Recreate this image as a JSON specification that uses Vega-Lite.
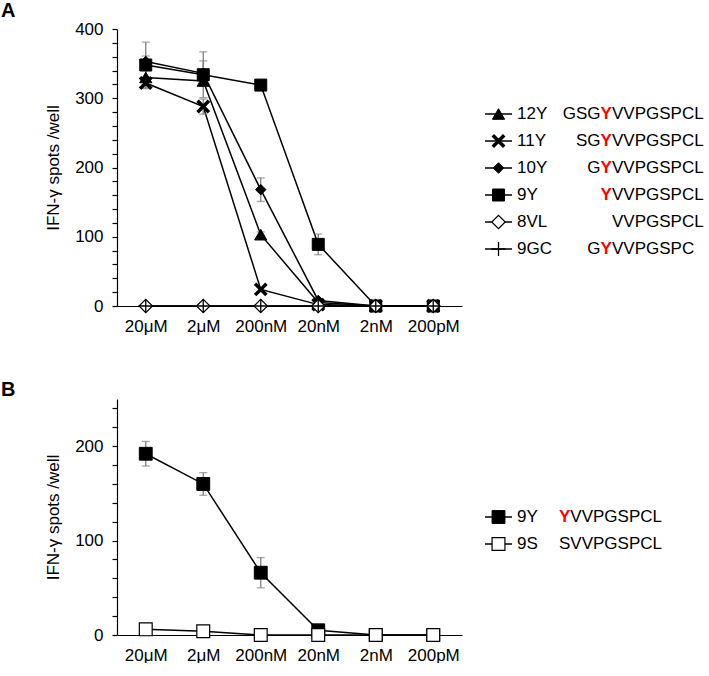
{
  "$schema": "https://vega.github.io/schema/vega-lite/v6.json",
  "padding": {"left": 1, "top": 1, "right": 0, "bottom": 0},
  "background": "white",
  "spacing": 46,
  "resolve": {"scale": {"fill": "independent", "size": "independent", "strokeWidth": "independent", "shape": "independent"}},
  "config": {
    "view": {"stroke": null},
    "font": "Liberation Sans",
    "axis": {"labelFont": "Liberation Sans", "labelFontSize": 17, "labelColor": "black", "titleFont": "Liberation Sans", "titleFontSize": 17, "titleFontWeight": "normal", "titleColor": "black", "domainColor": "black", "domainWidth": 1.2, "tickColor": "black", "tickWidth": 1.2, "grid": false},
    "title": {"font": "Liberation Sans", "color": "black"}
  },
  "datasets": {
    "pts": [
      {"panel": "A", "series": "12Y", "conc": "20μM", "value": 330, "err": 10},
      {"panel": "A", "series": "12Y", "conc": "2μM", "value": 325, "err": 8},
      {"panel": "A", "series": "12Y", "conc": "200nM", "value": 103, "err": 4},
      {"panel": "A", "series": "12Y", "conc": "20nM", "value": 5, "err": 0},
      {"panel": "A", "series": "12Y", "conc": "2nM", "value": 0, "err": 0},
      {"panel": "A", "series": "12Y", "conc": "200pM", "value": 0, "err": 0},
      {"panel": "A", "series": "11Y", "conc": "20μM", "value": 322, "err": 8},
      {"panel": "A", "series": "11Y", "conc": "2μM", "value": 288, "err": 11},
      {"panel": "A", "series": "11Y", "conc": "200nM", "value": 24, "err": 3},
      {"panel": "A", "series": "11Y", "conc": "20nM", "value": 2, "err": 0},
      {"panel": "A", "series": "11Y", "conc": "2nM", "value": 0, "err": 0},
      {"panel": "A", "series": "11Y", "conc": "200pM", "value": 0, "err": 0},
      {"panel": "A", "series": "10Y", "conc": "20μM", "value": 353, "err": 8},
      {"panel": "A", "series": "10Y", "conc": "2μM", "value": 336, "err": 18},
      {"panel": "A", "series": "10Y", "conc": "200nM", "value": 168, "err": 17},
      {"panel": "A", "series": "10Y", "conc": "20nM", "value": 8, "err": 0},
      {"panel": "A", "series": "10Y", "conc": "2nM", "value": 0, "err": 0},
      {"panel": "A", "series": "10Y", "conc": "200pM", "value": 0, "err": 0},
      {"panel": "A", "series": "9Y", "conc": "20μM", "value": 348, "err": 33},
      {"panel": "A", "series": "9Y", "conc": "2μM", "value": 334, "err": 33},
      {"panel": "A", "series": "9Y", "conc": "200nM", "value": 319, "err": 0},
      {"panel": "A", "series": "9Y", "conc": "20nM", "value": 89, "err": 15},
      {"panel": "A", "series": "9Y", "conc": "2nM", "value": 0, "err": 0},
      {"panel": "A", "series": "9Y", "conc": "200pM", "value": 0, "err": 0},
      {"panel": "A", "series": "8VL", "conc": "20μM", "value": 0, "err": 0},
      {"panel": "A", "series": "8VL", "conc": "2μM", "value": 0, "err": 0},
      {"panel": "A", "series": "8VL", "conc": "200nM", "value": 0, "err": 0},
      {"panel": "A", "series": "8VL", "conc": "20nM", "value": 0, "err": 0},
      {"panel": "A", "series": "8VL", "conc": "2nM", "value": 0, "err": 0},
      {"panel": "A", "series": "8VL", "conc": "200pM", "value": 0, "err": 0},
      {"panel": "A", "series": "9GC", "conc": "20μM", "value": 0, "err": 0},
      {"panel": "A", "series": "9GC", "conc": "2μM", "value": 0, "err": 0},
      {"panel": "A", "series": "9GC", "conc": "200nM", "value": 0, "err": 0},
      {"panel": "A", "series": "9GC", "conc": "20nM", "value": 0, "err": 0},
      {"panel": "A", "series": "9GC", "conc": "2nM", "value": 0, "err": 0},
      {"panel": "A", "series": "9GC", "conc": "200pM", "value": 0, "err": 0},
      {"panel": "B", "series": "9Y", "conc": "20μM", "value": 192, "err": 13},
      {"panel": "B", "series": "9Y", "conc": "2μM", "value": 160, "err": 12},
      {"panel": "B", "series": "9Y", "conc": "200nM", "value": 66, "err": 16},
      {"panel": "B", "series": "9Y", "conc": "20nM", "value": 5, "err": 0},
      {"panel": "B", "series": "9Y", "conc": "2nM", "value": 0, "err": 0},
      {"panel": "B", "series": "9Y", "conc": "200pM", "value": 0, "err": 0},
      {"panel": "B", "series": "9S", "conc": "20μM", "value": 6, "err": 4},
      {"panel": "B", "series": "9S", "conc": "2μM", "value": 4, "err": 4},
      {"panel": "B", "series": "9S", "conc": "200nM", "value": 0, "err": 0},
      {"panel": "B", "series": "9S", "conc": "20nM", "value": 0, "err": 0},
      {"panel": "B", "series": "9S", "conc": "2nM", "value": 0, "err": 0},
      {"panel": "B", "series": "9S", "conc": "200pM", "value": 0, "err": 0}
    ],
    "leg": [
      {"panel": "A", "series": "12Y", "pre": "GSG", "mid": "Y", "suf": "VVPGSPCL"},
      {"panel": "A", "series": "11Y", "pre": "SG", "mid": "Y", "suf": "VVPGSPCL"},
      {"panel": "A", "series": "10Y", "pre": "G", "mid": "Y", "suf": "VVPGSPCL"},
      {"panel": "A", "series": "9Y", "pre": "", "mid": "Y", "suf": "VVPGSPCL"},
      {"panel": "A", "series": "8VL", "pre": "", "mid": "", "suf": "VVPGSPCL"},
      {"panel": "A", "series": "9GC", "pre": "G", "mid": "Y", "suf": "VVPGSPC"},
      {"panel": "B", "series": "9Y", "pre": "", "mid": "Y", "suf": "VVPGSPCL"},
      {"panel": "B", "series": "9S", "pre": "", "mid": "S", "suf": "VVPGSPCL"}
    ]
  },
  "vconcat": [
    {
      "title": {"text": "A", "anchor": "start", "frame": "group", "dx": -116, "fontSize": 20, "fontWeight": "bold", "offset": -1},
      "width": 345,
      "height": 277,
      "resolve": {"scale": {"y": "independent"}},
      "layer": [
        {
          "data": {"name": "pts"},
          "transform": [{"filter": "datum.panel === 'A'"}],
          "encoding": {
            "x": {"field": "conc", "type": "ordinal", "sort": ["20μM", "2μM", "200nM", "20nM", "2nM", "200pM"], "scale": {"type": "point", "padding": 0.5}, "axis": {"title": null, "ticks": false, "labelPadding": 12, "labelAngle": 0}},
            "y": {"field": "value", "type": "quantitative", "scale": {"domain": [0, 400], "nice": false}, "axis": {"title": "IFN-γ spots /well", "values": [0, 20, 40, 60, 80, 100, 120, 140, 160, 180, 200, 220, 240, 260, 280, 300, 320, 340, 360, 380, 400], "labelExpr": "datum.value % 100 === 0 ? datum.label : ''", "labelOverlap": false, "tickSize": 5, "labelPadding": 9, "titlePadding": 12}}
          },
          "layer": [
            {"mark": {"type": "line", "color": "black", "strokeWidth": 1.5}, "encoding": {"detail": {"field": "series"}}},
            {"transform": [{"filter": "datum.err > 0"}], "mark": {"type": "errorbar", "color": "#808080", "thickness": 1.3, "ticks": {"size": 8, "color": "#808080", "thickness": 1.3}}, "encoding": {"yError": {"field": "err"}}},
            {
              "mark": {"type": "point", "filled": true, "stroke": "black", "opacity": 1},
              "encoding": {
                "shape": {"field": "series", "type": "nominal", "scale": {"type": "ordinal", "domain": ["12Y", "11Y", "10Y", "9Y", "8VL", "9GC"], "range": ["triangle-up", "M-1,-1L1,1M1,-1L-1,1", "diamond", "square", "diamond", "M0,-1L0,1M-1,0L1,0"]}, "legend": null},
                "size": {"field": "series", "type": "nominal", "scale": {"type": "ordinal", "domain": ["12Y", "11Y", "10Y", "9Y", "8VL", "9GC"], "range": [150, 130, 110, 144, 180, 200]}, "legend": null},
                "fill": {"field": "series", "type": "nominal", "scale": {"type": "ordinal", "domain": ["12Y", "11Y", "10Y", "9Y", "8VL", "9GC"], "range": ["black", "black", "black", "black", "white", "white"]}, "legend": null},
                "strokeWidth": {"field": "series", "type": "nominal", "scale": {"type": "ordinal", "domain": ["12Y", "11Y", "10Y", "9Y", "8VL", "9GC"], "range": [1, 3.5, 1, 1, 1.2, 1.3]}, "legend": null}
              }
            }
          ]
        },
        {
          "data": {"name": "leg"},
          "transform": [{"filter": "datum.panel === 'A'"}],
          "encoding": {
            "y": {"field": "series", "type": "ordinal", "scale": {"type": "point", "domain": ["12Y", "11Y", "10Y", "9Y", "8VL", "9GC"], "range": [85, 220], "padding": 0}, "axis": null}
          },
          "layer": [
            {"mark": {"type": "rule", "x": 368, "x2": 395, "color": "black", "strokeWidth": 1.5}},
            {
              "mark": {"type": "point", "filled": true, "stroke": "black", "opacity": 1, "x": 381.5},
              "encoding": {
                "shape": {"field": "series", "type": "nominal", "scale": {"type": "ordinal", "domain": ["12Y", "11Y", "10Y", "9Y", "8VL", "9GC"], "range": ["triangle-up", "M-1,-1L1,1M1,-1L-1,1", "diamond", "square", "diamond", "M0,-1L0,1"]}, "legend": null},
                "size": {"field": "series", "type": "nominal", "scale": {"type": "ordinal", "domain": ["12Y", "11Y", "10Y", "9Y", "8VL", "9GC"], "range": [130, 100, 80, 130, 110, 150]}, "legend": null},
                "fill": {"field": "series", "type": "nominal", "scale": {"type": "ordinal", "domain": ["12Y", "11Y", "10Y", "9Y", "8VL", "9GC"], "range": ["black", "black", "black", "black", "white", "white"]}, "legend": null},
                "strokeWidth": {"field": "series", "type": "nominal", "scale": {"type": "ordinal", "domain": ["12Y", "11Y", "10Y", "9Y", "8VL", "9GC"], "range": [1, 3, 1, 1, 1.2, 1.3]}, "legend": null}
              }
            },
            {"mark": {"type": "text", "x": 400, "align": "left", "baseline": "middle", "fontSize": 17, "color": "black"}, "encoding": {"text": {"field": "series"}}},
            {"mark": {"type": "text", "x": 483.5, "align": "right", "baseline": "middle", "fontSize": 17, "color": "black"}, "encoding": {"text": {"field": "pre"}}},
            {"transform": [{"filter": "datum.mid === 'Y'"}], "mark": {"type": "text", "x": 483.5, "align": "left", "baseline": "middle", "fontSize": 17, "fontWeight": "bold", "color": "#ff0000"}, "encoding": {"text": {"field": "mid"}}},
            {"mark": {"type": "text", "x": 495, "align": "left", "baseline": "middle", "fontSize": 17, "color": "black"}, "encoding": {"text": {"field": "suf"}}}
          ]
        }
      ]
    },
    {
      "title": {"text": "B", "anchor": "start", "frame": "group", "dx": -116, "fontSize": 20, "fontWeight": "bold", "offset": -1},
      "width": 345,
      "height": 236,
      "resolve": {"scale": {"y": "independent"}},
      "layer": [
        {
          "data": {"name": "pts"},
          "transform": [{"filter": "datum.panel === 'B'"}],
          "encoding": {
            "x": {"field": "conc", "type": "ordinal", "sort": ["20μM", "2μM", "200nM", "20nM", "2nM", "200pM"], "scale": {"type": "point", "padding": 0.5}, "axis": {"title": null, "ticks": false, "labelPadding": 12, "labelAngle": 0}},
            "y": {"field": "value", "type": "quantitative", "scale": {"domain": [0, 250], "nice": false}, "axis": {"title": "IFN-γ spots /well", "values": [0, 20, 40, 60, 80, 100, 120, 140, 160, 180, 200, 220, 240], "labelExpr": "datum.value % 100 === 0 ? datum.label : ''", "labelOverlap": false, "tickSize": 5, "labelPadding": 9, "titlePadding": 12}}
          },
          "layer": [
            {"mark": {"type": "line", "color": "black", "strokeWidth": 1.5}, "encoding": {"detail": {"field": "series"}}},
            {"transform": [{"filter": "datum.err > 0"}], "mark": {"type": "errorbar", "color": "#808080", "thickness": 1.3, "ticks": {"size": 8, "color": "#808080", "thickness": 1.3}}, "encoding": {"yError": {"field": "err"}}},
            {
              "mark": {"type": "point", "filled": true, "stroke": "black", "opacity": 1, "shape": "square"},
              "encoding": {
                "size": {"field": "series", "type": "nominal", "scale": {"type": "ordinal", "domain": ["9Y", "9S"], "range": [165, 165]}, "legend": null},
                "fill": {"field": "series", "type": "nominal", "scale": {"type": "ordinal", "domain": ["9Y", "9S"], "range": ["black", "white"]}, "legend": null},
                "strokeWidth": {"field": "series", "type": "nominal", "scale": {"type": "ordinal", "domain": ["9Y", "9S"], "range": [1, 1.2]}, "legend": null}
              }
            }
          ]
        },
        {
          "data": {"name": "leg"},
          "transform": [{"filter": "datum.panel === 'B'"}],
          "encoding": {
            "y": {"field": "series", "type": "ordinal", "scale": {"type": "point", "domain": ["9Y", "9S"], "range": [118, 145], "padding": 0}, "axis": null}
          },
          "layer": [
            {"mark": {"type": "rule", "x": 368, "x2": 395, "color": "black", "strokeWidth": 1.5}},
            {
              "mark": {"type": "point", "filled": true, "stroke": "black", "opacity": 1, "shape": "square", "x": 381.5},
              "encoding": {
                "size": {"field": "series", "type": "nominal", "scale": {"type": "ordinal", "domain": ["9Y", "9S"], "range": [130, 110]}, "legend": null},
                "fill": {"field": "series", "type": "nominal", "scale": {"type": "ordinal", "domain": ["9Y", "9S"], "range": ["black", "white"]}, "legend": null},
                "strokeWidth": {"field": "series", "type": "nominal", "scale": {"type": "ordinal", "domain": ["9Y", "9S"], "range": [1, 1.2]}, "legend": null}
              }
            },
            {"mark": {"type": "text", "x": 400, "align": "left", "baseline": "middle", "fontSize": 17, "color": "black"}, "encoding": {"text": {"field": "series"}}},
            {"transform": [{"filter": "datum.mid === 'Y'"}], "mark": {"type": "text", "x": 442, "align": "left", "baseline": "middle", "fontSize": 17, "fontWeight": "bold", "color": "#ff0000"}, "encoding": {"text": {"field": "mid"}}},
            {"transform": [{"filter": "datum.mid !== 'Y'"}], "mark": {"type": "text", "x": 442, "align": "left", "baseline": "middle", "fontSize": 17, "color": "black"}, "encoding": {"text": {"field": "mid"}}},
            {"mark": {"type": "text", "x": 453.3, "align": "left", "baseline": "middle", "fontSize": 17, "color": "black"}, "encoding": {"text": {"field": "suf"}}}
          ]
        }
      ]
    }
  ]
}
